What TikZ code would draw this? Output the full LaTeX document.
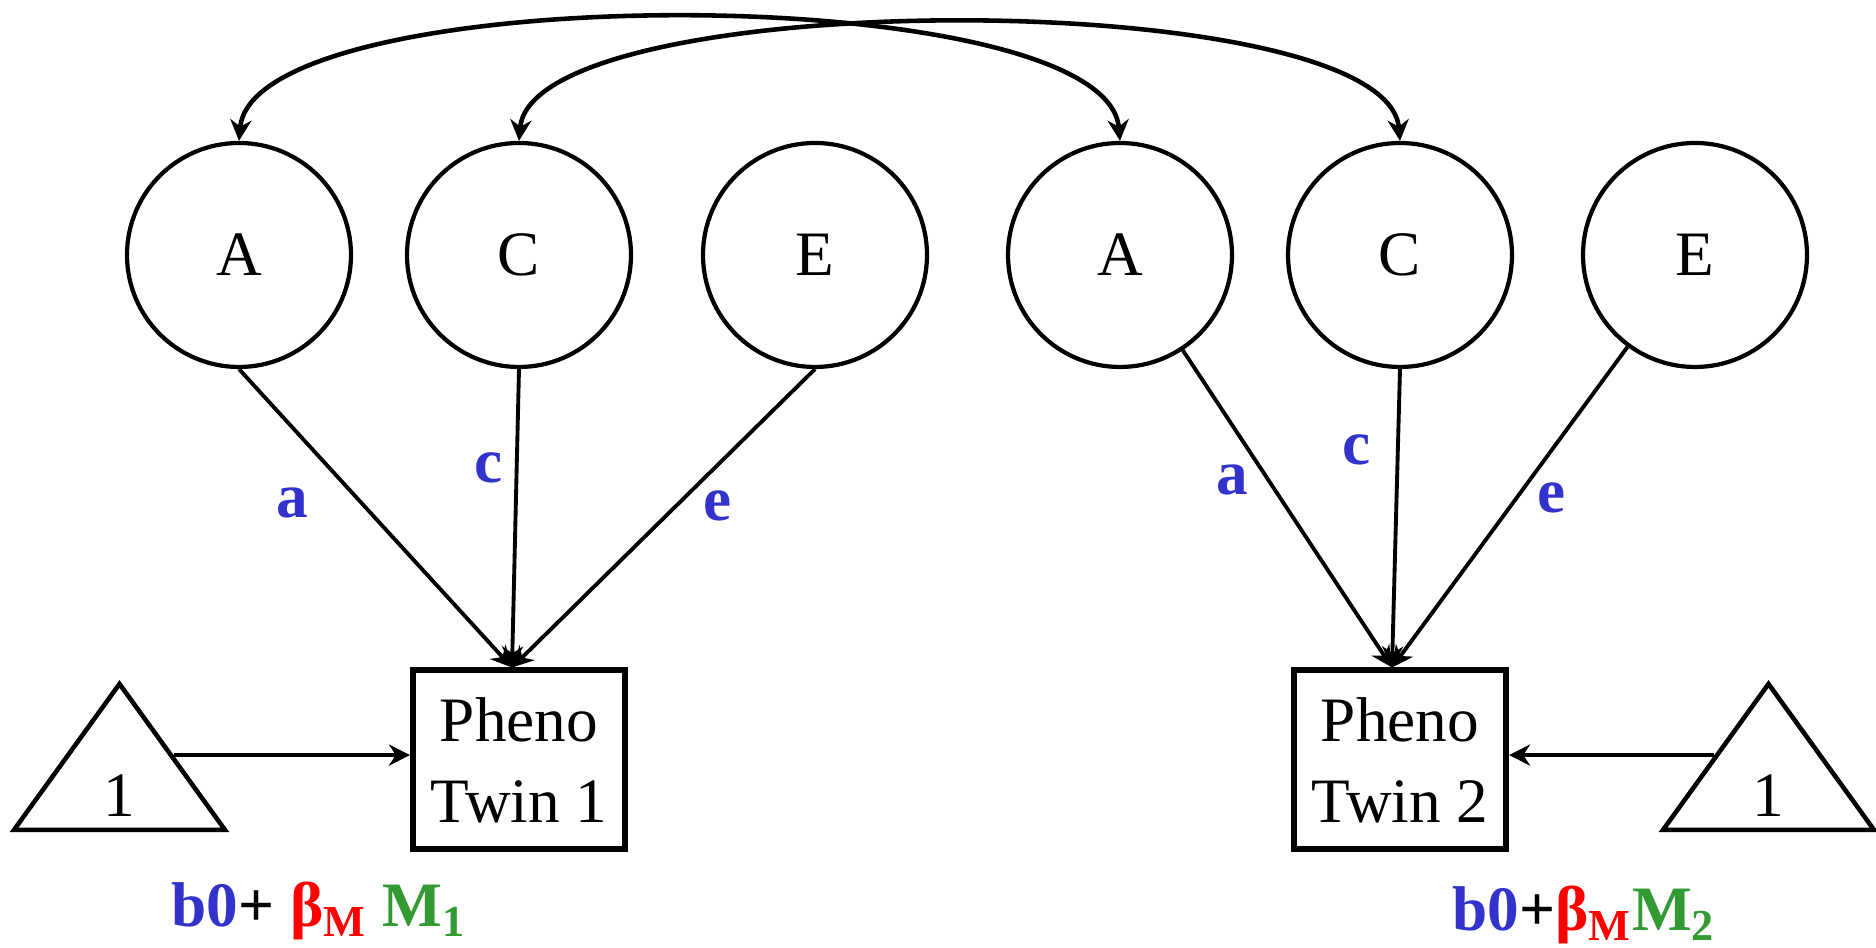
\documentclass[tikz,border=0pt]{standalone}
\usepackage{fontspec}
\setmainfont{Liberation Serif}
\usetikzlibrary{positioning, arrows.meta, shapes.geometric}

\definecolor{pathblue}{RGB}{51,51,204}
\definecolor{betared}{RGB}{255,0,0}
\definecolor{modgreen}{RGB}{51,153,51}

\tikzset{
>={Stealth[length=6pt, width=6pt]}, % filled arrow heads
latent/.style={circle, draw, line width=1.2pt, minimum size=2.24cm, inner sep=0pt, font=\fontsize{18}{23}\selectfont}, % A, C, E factors
pheno/.style={rectangle, draw, line width=1.7pt, minimum width=2.12cm, minimum height=1.79cm, align=center, font=\fontsize{18}{23}\selectfont}, % observed phenotype
unitmean/.style={isosceles triangle, shape border rotate=90, isosceles triangle stretches, draw, line width=1.3pt, minimum width=2.11cm, minimum height=1.46cm, inner sep=0pt}, % constant 1
one/.style={font=\fontsize{18}{23}\selectfont, inner sep=0pt},
path label/.style={font=\bfseries\fontsize{18}{23}\selectfont, text=pathblue, inner sep=0pt}, % path coefficients
reg label/.style={font=\bfseries\fontsize{18}{23}\selectfont, inner sep=0pt, anchor=base}, % mean model
}

\begin{document}
\begin{tikzpicture}
    \useasboundingbox (0,0) rectangle (18.76,9.48);

    % twin 1
    \node[latent] (A1) at (2.39,6.93) {A};
    \node[latent, right of=A1, node distance=2.80cm] (C1) {C};
    \node[latent, right of=C1, node distance=2.96cm] (E1) {E};
    % twin 2
    \node[latent, right of=E1, node distance=3.05cm] (A2) {A};
    \node[latent, right of=A2, node distance=2.80cm] (C2) {C};
    \node[latent, right of=C2, node distance=2.95cm] (E2) {E};

    \node[pheno, below of=C1, node distance=5.05cm] (P1) {Pheno\\Twin 1};
    \node[pheno, below of=C2, node distance=5.05cm] (P2) {Pheno\\Twin 2};
    \coordinate (in1) at ([xshift=-0.07cm]P1.north);
    \coordinate (in2) at ([xshift=-0.08cm]P2.north);

    \node[unitmean] (T1) at (1.195,1.72) {};
    \node[unitmean] (T2) at (17.685,1.72) {};
    \node[one] (one1) at ([yshift=-0.20cm]T1.center) {1};
    \node[one] (one2) at ([yshift=-0.20cm]T2.center) {1};

    \node[reg label] (M1) at (3.19,0.21) {\textcolor{pathblue}{b0}+ \textcolor{betared}{β\textsubscript{M}} \textcolor{modgreen}{M\textsubscript{1}}};
    \node[reg label] (M2) at (15.84,0.17) {\textcolor{pathblue}{b0}+\textcolor{betared}{β\textsubscript{M}}\textcolor{modgreen}{M\textsubscript{2}}};

    % paths to the phenotypes
    \draw[->, line width=1.1pt] (A1.south) -- node[path label, pos=0.45, left=0.52cm] {a} (in1);
    \draw[->, line width=1.1pt] (C1.south) -- node[path label, pos=0.33, left=0.12cm] {c} (in1);
    \draw[->, line width=1.1pt] (E1.south) -- node[path label, pos=0.46, right=0.26cm] {e} (in1);
    \draw[->, line width=1.1pt] (A2) -- node[path label, pos=0.41, left=0.19cm] {a} (in2);
    \draw[->, line width=1.1pt] (C2.south) -- node[path label, pos=0.27, left=0.25cm] {c} (in2);
    \draw[->, line width=1.1pt] (E2) -- node[path label, pos=0.47, right=0.19cm] {e} (in2);

    % means
    \draw[->, line width=1.1pt] (T1.right side) -- (T1.right side -| P1.west);
    \draw[->, line width=1.1pt] (T2.left side) -- (T2.left side -| P2.east);

    % twin covariances
    \draw[<->, line width=1.3pt] (A1.north) to[out=85, in=95, looseness=0.477] (A2.north);
    \draw[<->, line width=1.3pt] (C1.north) to[out=85, in=95, looseness=0.457] (C2.north);
\end{tikzpicture}
\end{document}
